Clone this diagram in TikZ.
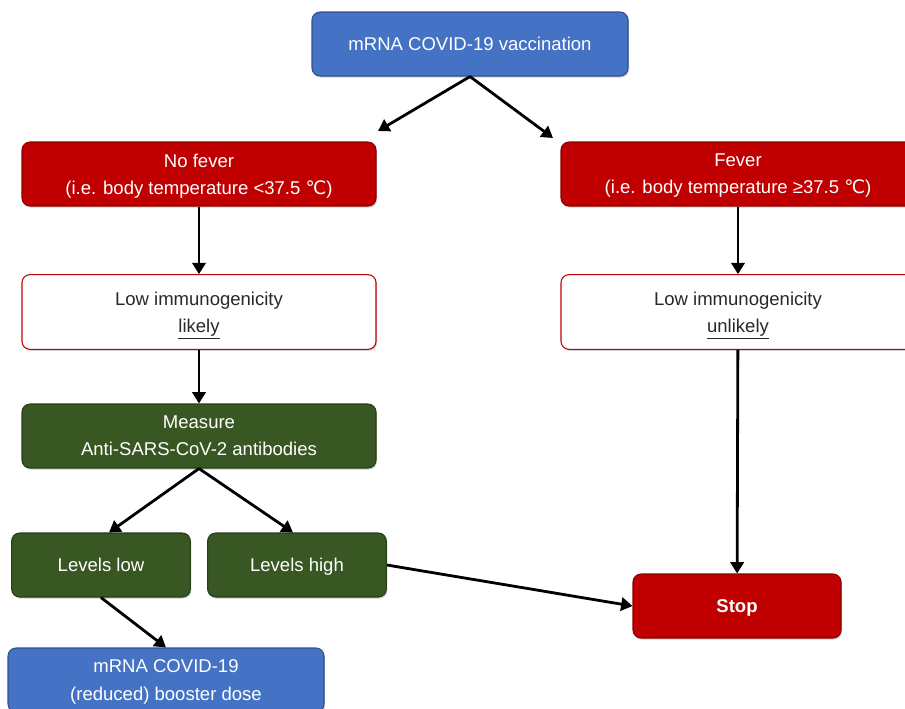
\documentclass[tikz,border=0pt]{standalone}
\usepackage{fontspec}
\setmainfont{Liberation Sans}
\newfontfamily\symfont{DejaVu Sans}
\usetikzlibrary{arrows.meta,shadows,calc}
\definecolor{VaxBlue}{RGB}{68,114,196}
\definecolor{VaxBlueEdge}{RGB}{47,82,143}
\definecolor{FeverRed}{RGB}{192,0,0}
\definecolor{FeverRedEdge}{RGB}{140,0,0}
\definecolor{TestGreen}{RGB}{56,87,35}
\definecolor{TestGreenEdge}{RGB}{38,62,24}
\definecolor{TextGray}{RGB}{40,40,40}
\tikzset{
  box/.style={rounded corners=6pt,minimum width=265.5pt,minimum height=48pt,
    inner sep=0pt,align=center,font=\fontsize{13.9}{20.3}\selectfont,
    drop shadow={shadow xshift=0.8pt,shadow yshift=-1.2pt,opacity=0.35}},
  oneline/.style={text height=11.5pt,text depth=2pt},
  twoline/.style={text depth=0pt},
  bluebox/.style={box,fill=VaxBlue,draw=VaxBlueEdge,line width=0.8pt,text=white},
  redbox/.style={box,fill=FeverRed,draw=FeverRedEdge,line width=0.8pt,text=white},
  greenbox/.style={box,fill=TestGreen,draw=TestGreenEdge,line width=0.8pt,text=white},
  outlinebox/.style={box,fill=white,draw=FeverRed,line width=0.8pt,text=TextGray},
  flow/.style={-{Triangle[length=8.5pt,width=10pt]},line width=2.1pt,black}
}
\newcommand{\degC}{{\symfont ℃}}
\begin{document}
\begin{tikzpicture}[x=0.75pt,y=-0.75pt]
  \useasboundingbox (0,0) rectangle (905,708);
  % boxes
  \node[bluebox,oneline,minimum width=237pt] (vax) at (470,44) {mRNA COVID-19 vaccination};
  \node[redbox,twoline] (nofever) at (199,174) {No fever\\(i.e. body temperature <37.5 \degC)};
  \node[redbox,twoline] (fever) at (738,174) {Fever\\(i.e. body temperature ≥37.5 \degC)};
  \node[outlinebox,twoline,minimum height=56pt] (likely) at (199,312) {Low immunogenicity\\\underline{likely}};
  \node[outlinebox,twoline,minimum height=56pt] (unlikely) at (738,312) {Low immunogenicity\\\underline{unlikely}};
  \node[greenbox,twoline] (measure) at (199,436) {Measure\\Anti-SARS-CoV-2 antibodies};
  \node[greenbox,oneline,minimum width=134pt] (lvlow) at (101,565) {Levels low};
  \node[greenbox,oneline,minimum width=134pt] (lvhigh) at (297,565) {Levels high};
  \node[redbox,oneline,minimum width=156pt,font=\fontsize{13.9}{20.3}\selectfont\bfseries] (stop) at (737,606) {Stop};
  \node[bluebox,twoline,minimum width=237pt] (boost) at (166,680) {mRNA COVID-19\\(reduced) booster dose};
  % free arrow ends
  \coordinate (nfend) at (378,131);
  \coordinate (fvend) at (553,138);
  % connectors
  \draw[flow] (vax.south) -- (nfend);
  \draw[flow] (vax.south) -- (fvend);
  \draw[flow] (nofever) -- (likely);
  \draw[flow] (fever) -- (unlikely);
  \draw[flow] (likely) -- (measure);
  \draw[flow] (unlikely) -- (stop);
  \draw[flow] (measure.south) -- ([xshift=6pt]lvlow.north);
  \draw[flow] (measure.south) -- ([xshift=-3pt]lvhigh.north);
  \draw[flow] (lvlow.south) -- (boost.north);
  \draw[flow] (lvhigh.east) -- (stop.west);
\end{tikzpicture}
\end{document}
